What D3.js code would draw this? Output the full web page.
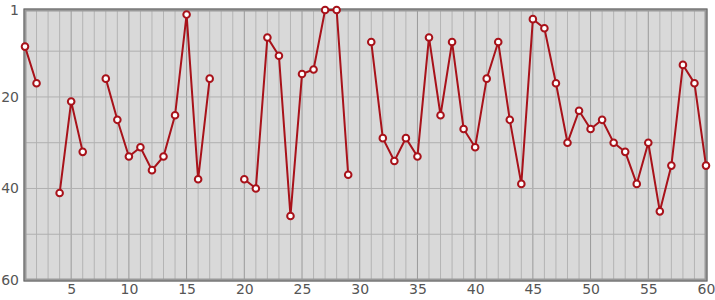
<!DOCTYPE html>
<meta charset="utf-8">
<style>
body { margin: 0; background: #fff; }
.tick text { font: 14px "DejaVu Sans", sans-serif; fill: #555; }
</style>
<svg width="715" height="300"></svg>
<script src="https://d3js.org/d3.v7.min.js"></script>
<script>

// rank by index, null = no value
var xs = d3.range(1, 61);
var ranks = [9, 17, null, 41, 21, 32, null, 16, 25, 33,
             31, 36, 33, 24, 2, 38, 16, null, null, 38,
             40, 7, 11, 46, 15, 14, 1, 1, 37, null,
             8, 29, 34, 29, 33, 7, 24, 8, 27, 31,
             16, 8, 25, 39, 3, 5, 17, 30, 23, 27,
             25, 30, 32, 39, 30, 45, 35, 13, 17, 35];
var xTicks = [5, 10, 15, 20, 25, 30, 35, 40, 45, 50, 55, 60];
var yTicks = [1, 20, 40, 60];

var data = xs.map(function(x, i) { return {x: x, y: ranks[i]}; });

var svg = d3.select("svg"),
    pLeft = 25, pRight = 706, pTop = 10, pBottom = 280;

var x = d3.scaleLinear().domain([1, 60]).range([pLeft, pRight]);
var y = d3.scaleLinear().domain([1, 60]).range([pTop, pBottom]);

svg.append("rect")
    .attr("x", pLeft).attr("y", pTop)
    .attr("width", pRight - pLeft).attr("height", pBottom - pTop)
    .attr("fill", "#d9d9d9");

// minor vertical grid every 1, darker every 5
svg.append("g").selectAll("line")
    .data(d3.range(2, 60))
  .enter().append("line")
    .attr("x1", function(d) { return x(d); }).attr("x2", function(d) { return x(d); })
    .attr("y1", pTop).attr("y2", pBottom)
    .attr("stroke", function(d) { return d % 5 == 0 ? "#999" : "#b4b4b4"; })
    .attr("stroke-width", 1);

svg.append("g").selectAll("line")
    .data([10, 20, 30, 40, 50])
  .enter().append("line")
    .attr("x1", pLeft).attr("x2", pRight)
    .attr("y1", function(d) { return y(d); }).attr("y2", function(d) { return y(d); })
    .attr("stroke", "#b0b0b0");

// frame
svg.append("rect")
    .attr("x", pLeft).attr("y", pTop)
    .attr("width", pRight - pLeft).attr("height", pBottom - pTop)
    .attr("fill", "none").attr("stroke", "#999").attr("stroke-width", 3);
svg.append("rect")
    .attr("x", pLeft - 1).attr("y", pTop - 1)
    .attr("width", pRight - pLeft + 2).attr("height", pBottom - pTop + 2)
    .attr("fill", "none").attr("stroke", "#666").attr("stroke-width", 1);

var xAxis = svg.append("g")
    .attr("transform", "translate(0," + pBottom + ")")
    .call(d3.axisBottom(x).tickValues(xTicks).tickSize(0).tickPadding(4));
xAxis.select(".domain").remove();

var yAxis = svg.append("g")
    .attr("transform", "translate(" + pLeft + ",0)")
    .call(d3.axisLeft(y).tickValues(yTicks).tickSize(0).tickPadding(6));
yAxis.select(".domain").remove();

var line = d3.line()
    .defined(function(d) { return d.y != null; })
    .x(function(d) { return x(d.x); })
    .y(function(d) { return y(d.y); });

svg.append("path")
    .datum(data)
    .attr("d", line)
    .attr("fill", "none")
    .attr("stroke", "#a8121a")
    .attr("stroke-width", 2);

svg.append("g").selectAll("circle")
    .data(data.filter(function(d) { return d.y != null; }))
  .enter().append("circle")
    .attr("cx", function(d) { return x(d.x); })
    .attr("cy", function(d) { return y(d.y); })
    .attr("r", 3.3)
    .attr("fill", "#fff")
    .attr("stroke", "#a8121a")
    .attr("stroke-width", 2);

</script>
